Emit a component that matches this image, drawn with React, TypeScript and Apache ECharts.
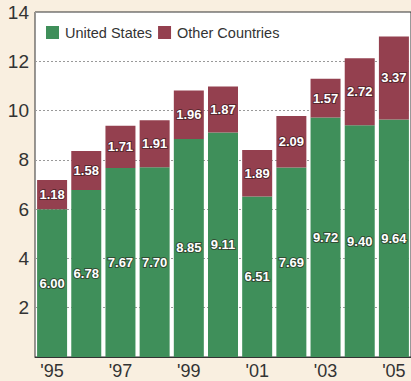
import React, { useEffect, useRef } from "react";
import * as echarts from "echarts";

const years = ["'95", "'96", "'97", "'98", "'99", "'00", "'01", "'02", "'03", "'04", "'05"];
const usValues = [6.0, 6.78, 7.67, 7.7, 8.85, 9.11, 6.51, 7.69, 9.72, 9.4, 9.64];
const otherValues = [1.18, 1.58, 1.71, 1.91, 1.96, 1.87, 1.89, 2.09, 1.57, 2.72, 3.37];

const FONT = "'Liberation Sans', Arial, Helvetica, sans-serif";

export default function App() {
  const ref = useRef<HTMLDivElement>(null);
  useEffect(() => {
    if (!ref.current) return;
    const chart = echarts.init(ref.current, undefined, { renderer: "svg" });
    const label = {
      show: true,
      position: "inside",
      color: "#ffffff",
      fontFamily: FONT,
      fontSize: 13,
      fontWeight: "bold",
      textBorderColor: "rgba(40,20,20,0.55)",
      textBorderWidth: 2,
      formatter: (p: any) => p.value.toFixed(2),
    };
    chart.setOption({
      animation: false,
      backgroundColor: "#f9efe0",
      grid: {
        left: 35,
        top: 12,
        right: -7,
        bottom: 24,
        show: true,
        backgroundColor: "#ffffff",
        borderColor: "#333333",
        borderWidth: 1,
      },
      legend: {
        left: 41,
        top: 20,
        itemWidth: 13,
        itemHeight: 13,
        itemGap: 6,
        icon: "rect",
        textStyle: { fontFamily: FONT, fontSize: 14.5, color: "#333333", padding: [0, 0, 0, 1] },
        data: ["United States", "Other Countries"],
      },
      xAxis: {
        type: "category",
        data: years,
        axisTick: { show: false },
        axisLine: { lineStyle: { color: "#333333", width: 1 } },
        axisLabel: {
          interval: 1,
          fontFamily: FONT,
          fontSize: 18,
          color: "#333333",
          margin: 5,
        },
      },
      yAxis: {
        type: "value",
        min: 0,
        max: 14,
        interval: 2,
        axisLine: { show: false },
        axisTick: { show: false },
        axisLabel: {
          fontFamily: FONT,
          fontSize: 19,
          color: "#333333",
          margin: 6,
          padding: [6, 0, 0, 0],
          formatter: (v: number) => (v === 0 ? "" : String(v)),
        },
        splitLine: { lineStyle: { color: "#999999", type: [2, 2], width: 1 } },
      },
      series: [
        {
          name: "United States",
          type: "bar",
          stack: "total",
          barWidth: 30,
          data: usValues,
          itemStyle: { color: "#3f8f5a" },
          label,
        },
        {
          name: "Other Countries",
          type: "bar",
          stack: "total",
          barWidth: 30,
          data: otherValues,
          itemStyle: { color: "#94404f" },
          label,
        },
      ],
    });
    return () => chart.dispose();
  }, []);
  return (
    <div
      ref={ref}
      style={{ position: "fixed", left: 0, top: 0, width: 411, height: 381 }}
    />
  );
}
